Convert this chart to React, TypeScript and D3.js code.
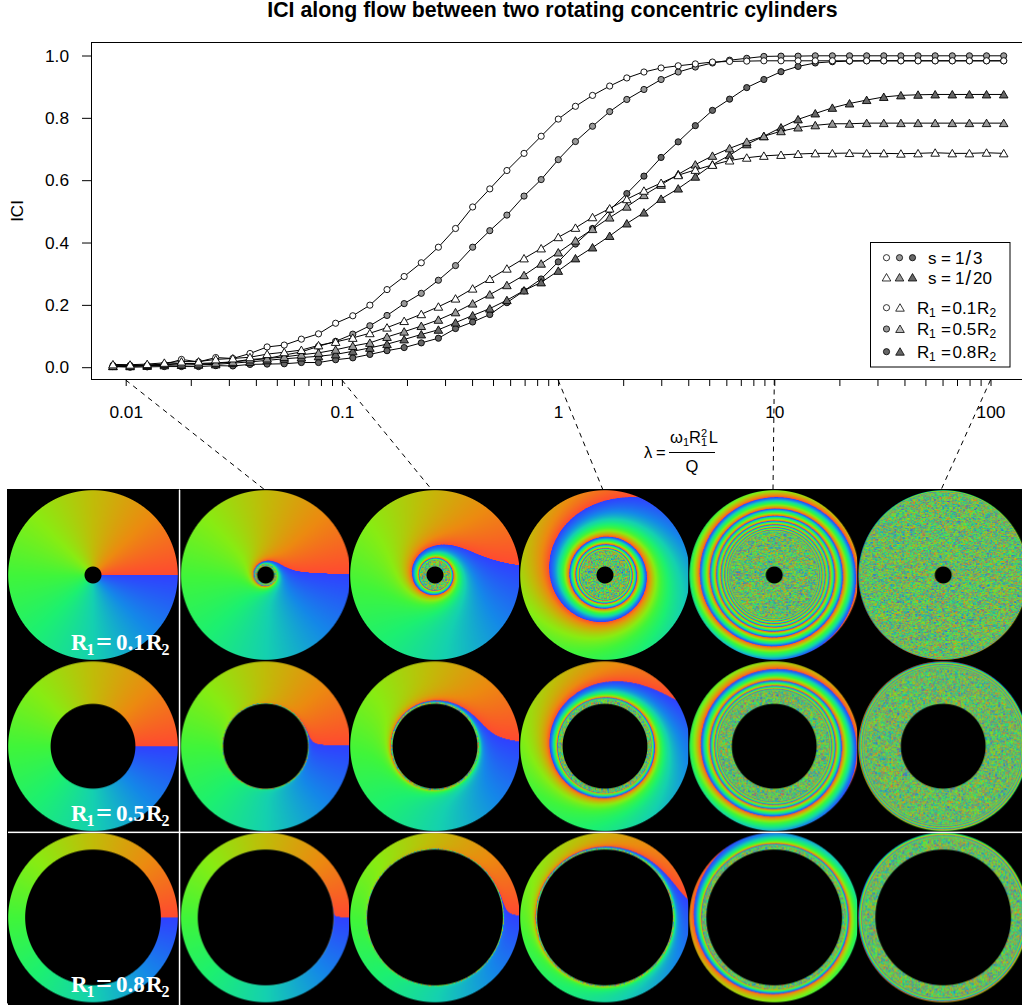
import React, { useEffect, useRef } from "react";
import * as d3 from "d3";

const FONT = "'Liberation Sans', Arial, sans-serif";
const SERIF = "'Liberation Serif', serif";

// flow parameter for every point on the curves
const lambdas = [
  0.00873, 0.01048, 0.01257, 0.01509, 0.01811, 0.02173, 0.02609, 0.0313, 0.03757, 0.04509,
  0.05411, 0.06494, 0.07795, 0.09354, 0.1123, 0.1347, 0.1617, 0.1941, 0.2329, 0.2795,
  0.3354, 0.4025, 0.4831, 0.5797, 0.6958, 0.835, 1.002, 1.203, 1.443, 1.732,
  2.079, 2.495, 2.995, 3.594, 4.313, 5.176, 6.212, 7.457, 8.949, 10.74,
  12.88, 15.47, 18.56, 22.28, 26.74, 32.09, 38.51, 46.22, 55.47, 66.57,
  79.89, 95.87, 115.1,
];

// s = 1/3
const circleR01 = [
  0.006, 0.006, 0.006, 0.009, 0.025, 0.017, 0.031, 0.028, 0.044, 0.065,
  0.071, 0.09, 0.107, 0.141, 0.165, 0.199, 0.249, 0.291, 0.335, 0.385,
  0.445, 0.514, 0.572, 0.631, 0.686, 0.741, 0.796, 0.837, 0.872, 0.902,
  0.928, 0.947, 0.96, 0.967, 0.973, 0.979, 0.981, 0.982, 0.983, 0.983,
  0.983, 0.983, 0.983, 0.983, 0.983, 0.983, 0.983, 0.983, 0.983, 0.983,
  0.983, 0.983, 0.983,
];
const circleR05 = [
  0.002, 0.003, 0.005, 0.007, 0.012, 0.01, 0.012, 0.017, 0.022, 0.028,
  0.039, 0.049, 0.067, 0.083, 0.106, 0.133, 0.166, 0.204, 0.237, 0.279,
  0.326, 0.385, 0.438, 0.488, 0.549, 0.602, 0.666, 0.724, 0.773, 0.82,
  0.859, 0.891, 0.923, 0.947, 0.963, 0.976, 0.985, 0.991, 0.997, 0.998,
  0.998, 0.999, 0.999, 0.999, 0.999, 0.999, 0.999, 0.999, 0.999, 0.999,
  0.999, 0.999, 0.999,
];
const circleR08 = [
  0.002, 0.0, 0.001, 0.002, 0.002, 0.002, 0.005, 0.004, 0.009, 0.01,
  0.011, 0.015, 0.015, 0.024, 0.03, 0.041, 0.053, 0.063, 0.078, 0.093,
  0.124, 0.145, 0.169, 0.207, 0.245, 0.283, 0.338, 0.395, 0.445, 0.504,
  0.557, 0.613, 0.673, 0.723, 0.775, 0.824, 0.86, 0.897, 0.923, 0.948,
  0.965, 0.976, 0.98, 0.982, 0.983, 0.983, 0.983, 0.983, 0.983, 0.983,
  0.983, 0.983, 0.983,
];

// s = 1/20
const triangleR01 = [
  0.009, 0.008, 0.01, 0.014, 0.018, 0.018, 0.025, 0.028, 0.032, 0.042,
  0.048, 0.055, 0.07, 0.081, 0.094, 0.109, 0.127, 0.148, 0.17, 0.194,
  0.22, 0.252, 0.283, 0.316, 0.349, 0.381, 0.417, 0.447, 0.481, 0.509,
  0.539, 0.566, 0.591, 0.616, 0.633, 0.649, 0.663, 0.672, 0.678, 0.681,
  0.684, 0.686, 0.686, 0.687, 0.686, 0.686, 0.685, 0.686, 0.688, 0.686,
  0.686, 0.688, 0.686,
];
const triangleR05 = [
  0.004, 0.005, 0.007, 0.01, 0.012, 0.012, 0.014, 0.017, 0.025, 0.028,
  0.033, 0.04, 0.046, 0.056, 0.068, 0.078, 0.097, 0.114, 0.132, 0.152,
  0.176, 0.204, 0.233, 0.263, 0.295, 0.332, 0.368, 0.406, 0.443, 0.48,
  0.515, 0.552, 0.585, 0.619, 0.65, 0.678, 0.702, 0.723, 0.741, 0.757,
  0.769, 0.776, 0.781, 0.781, 0.783, 0.783, 0.783, 0.783, 0.783, 0.783,
  0.783, 0.783, 0.783,
];
const triangleR08 = [
  0.003, 0.003, 0.004, 0.006, 0.007, 0.008, 0.009, 0.013, 0.017, 0.022,
  0.027, 0.031, 0.035, 0.041, 0.051, 0.062, 0.074, 0.089, 0.105, 0.12,
  0.143, 0.166, 0.188, 0.215, 0.246, 0.272, 0.309, 0.349, 0.384, 0.421,
  0.461, 0.496, 0.54, 0.573, 0.611, 0.65, 0.68, 0.715, 0.741, 0.769,
  0.795, 0.814, 0.832, 0.846, 0.857, 0.867, 0.872, 0.874, 0.875, 0.875,
  0.875, 0.875, 0.875,
];

const seriesList = [
  { values: circleR08, shape: "circle", fill: "#666666" },
  { values: circleR05, shape: "circle", fill: "#999999" },
  { values: circleR01, shape: "circle", fill: "#ffffff" },
  { values: triangleR08, shape: "triangle", fill: "#666666" },
  { values: triangleR05, shape: "triangle", fill: "#999999" },
  { values: triangleR01, shape: "triangle", fill: "#ffffff" },
];

const yTicks = [0, 0.2, 0.4, 0.6, 0.8, 1.0];
const xMajorTicks = [0.01, 0.1, 1, 10, 100];
const xTickLabels = ["0.01", "0.1", "1", "10", "100"];

// disks: one row per radius ratio, one column per lambda
const radiusRatios = [0.1, 0.5, 0.8];
const panelLambdas = [0, 0.01, 0.1, 1, 10, 100];
const panelCentersX = [93, 265.6, 435, 605, 774.2, 943.2];
const panelCentersY = [575, 746.2, 917.4];
const ratioBaselines = [650, 821, 992];
const diskRadius = 84.8;
// where the dashed leaders land on top of the disks
const leaderTargetsX = [265, 432, 603, 773, 941];

// rim colours going counter clockwise from 3 o'clock
const hueAngles = [0, 45, 90, 135, 180, 225, 270, 315, 360];
const hueColors = ["#ff4a30", "#ec8a10", "#c0bc08", "#88ec12", "#40f53a", "#1cf070", "#14d0b0", "#1488e8", "#3040ff"];

function pseudo(x: number, y: number, s: number) {
  const v = Math.sin(x * 127.1 + y * 311.7 + s * 74.7) * 43758.5453;
  return v - Math.floor(v);
}

// concentric rotation + annular Poiseuille: twist of a fluid element at radius rho
function twist(rho: number, k: number) {
  const lnk = Math.log(1 / k);
  const a = (1 - k * k) / lnk;
  const integ = 0.25 * (1 - Math.pow(k, 4) - (1 - k * k) * (1 - k * k) / lnk);
  const c = (2 * Math.PI * integ) / (1 - k * k);
  const f = 1 - rho * rho + a * Math.log(rho);
  return (c * (1 / (rho * rho) - 1)) / f;
}

function drawDisk(lambda: number, k: number, r: number) {
  const size = Math.ceil(r * 2) + 2;
  const canvas = document.createElement("canvas");
  canvas.width = size;
  canvas.height = size;
  const ctx = canvas.getContext("2d")!;
  const img = ctx.createImageData(size, size);

  const colorScale = d3.scaleLinear<string>().domain(hueAngles).range(hueColors).interpolate(d3.interpolateRgb);
  const lut = d3.range(1024).map(i => d3.rgb(colorScale((i / 1024) * 360)));
  const wrap = (t: number) => lut[Math.min(1023, Math.floor((t - Math.floor(t)) * 1024))];

  const c = size / 2;
  const samples = 4;
  const pixel = 1 / r;
  const clampRho = (v: number) => Math.min(1 - 1e-4, Math.max(k + 1e-4, v));
  for (let py = 0; py < size; py++) {
    for (let px = 0; px < size; px++) {
      const dx = px + 0.5 - c;
      const dy = py + 0.5 - c;
      const dist = Math.hypot(dx, dy);
      const rho = dist / r;
      const cover = Math.min(1, Math.max(0, r - dist + 0.5)) * Math.min(1, Math.max(0, dist - k * r + 0.5));
      const idx = (py * size + px) * 4;
      img.data[idx + 3] = 255;
      if (cover <= 0) continue;
      const theta = Math.atan2(-dy, dx);

      // ring period in pixels; below about 2 px the bands dissolve into speckle
      const grad = Math.abs(twist(clampRho(rho + pixel), k) - twist(clampRho(rho - pixel), k)) * 0.5 * lambda;
      const period = grad > 0 ? (2 * Math.PI) / grad : 1e9;
      const speckle = Math.min(1, Math.max(0, (2.3 - period) / 0.6));

      let cr = 0, cg = 0, cb = 0;
      for (let s = 0; s < samples; s++) {
        const rj = rho + ((s + pseudo(px, py, s + 1 + lambda)) / samples - 0.5) * 0.8 * pixel;
        const col = wrap((theta - lambda * twist(clampRho(rj), k)) / (2 * Math.PI));
        cr += col.r; cg += col.g; cb += col.b;
      }
      cr /= samples; cg /= samples; cb /= samples;

      if (speckle > 0) {
        const cx = Math.floor(px / 1.6), cy = Math.floor(py / 1.6);
        const n1 = wrap(pseudo(cx, cy, 3.1 + k * 7 + lambda));
        const n2 = wrap(pseudo(cx + 11, cy + 5, 5.7 + k * 3 + lambda));
        const n3 = wrap(pseudo(px, py, 9.3 + k + lambda));
        const n4 = wrap(pseudo(px + 3, py + 7, 2.9 + k + lambda));
        const nr = (n1.r + n2.r + n3.r + n4.r) / 4, ng = (n1.g + n2.g + n3.g + n4.g) / 4, nb = (n1.b + n2.b + n3.b + n4.b) / 4;
        cr = cr * (1 - speckle) + nr * speckle;
        cg = cg * (1 - speckle) + ng * speckle;
        cb = cb * (1 - speckle) + nb * speckle;
      }
      img.data[idx] = cr * cover;
      img.data[idx + 1] = cg * cover;
      img.data[idx + 2] = cb * cover;
    }
  }
  ctx.putImageData(img, 0, 0);
  return { href: canvas.toDataURL(), size };
}

const App = () => {
  const ref = useRef<SVGSVGElement>(null);

  useEffect(() => {
    const svg = d3.select(ref.current);
    svg.selectAll("*").remove();

    const xScale = d3.scaleLog().domain([0.01, 100]).range([125.7, 990.5]);
    const yScale = d3.scaleLinear().domain([0, 1]).range([367.2, 55.5]);

    svg.append("text")
      .attr("x", 552.5).attr("y", 17)
      .attr("text-anchor", "middle")
      .style("font", `bold 21.3px ${FONT}`)
      .text("ICI along flow between two rotating concentric cylinders");

    // black image strip
    svg.append("rect").attr("x", 8).attr("y", 490).attr("width", 1014).attr("height", 515).attr("fill", "#000");

    radiusRatios.forEach((k, row) => {
      panelLambdas.forEach((lambda, col) => {
        const { href, size } = drawDisk(lambda, k, diskRadius);
        svg.append("image")
          .attr("href", href)
          .attr("x", panelCentersX[col] - size / 2)
          .attr("y", panelCentersY[row] - size / 2)
          .attr("width", size).attr("height", size)
          .style("filter", "blur(0.45px)");
      });
    });

    svg.append("rect").attr("x", 178.8).attr("y", 490).attr("width", 1.5).attr("height", 515).attr("fill", "#fff");
    svg.append("rect").attr("x", 8).attr("y", 831.6).attr("width", 1014).attr("height", 1.5).attr("fill", "#fff");

    ratioBaselines.forEach((y, row) => {
      const label = svg.append("g").attr("transform", `translate(71,${y})`)
        .attr("fill", "#fff").style("font-family", SERIF).style("font-weight", "bold");
      const part = (x: number, dy: number, fs: number, t: string) =>
        label.append("text").attr("x", x).attr("y", dy).style("font-size", fs + "px").text(t);
      part(0, 0, 23, "R");
      part(15.5, 5, 16, "1");
      part(25, 1, 28, "=");
      part(45, 0, 23, String(radiusRatios[row]));
      part(75, 0, 23, "R");
      part(90.5, 5, 16, "2");
    });

    // plot box, runs off the right hand edge of the page
    svg.append("rect").attr("x", 91.5).attr("y", 42.5).attr("width", 960).attr("height", 337)
      .attr("fill", "#fff").attr("stroke", "#000").attr("stroke-width", 1);

    const xMinor: number[] = [];
    [0.01, 0.1, 1, 10].forEach(d => d3.range(2, 10).forEach(m => xMinor.push(d * m)));
    const xAxis = svg.append("g").attr("transform", "translate(0,379)")
      .call(d3.axisBottom(xScale).tickValues(xMajorTicks.concat(xMinor)).tickSize(7).tickSizeOuter(0)
        .tickFormat((d: any) => { const i = xMajorTicks.indexOf(+d); return i >= 0 ? xTickLabels[i] : ""; }));
    xAxis.select(".domain").remove();
    xAxis.selectAll("text").attr("y", 26.7).style("font", `17.3px ${FONT}`).attr("fill", "#000");
    xAxis.selectAll("line").attr("stroke", "#000");

    const yAxis = svg.append("g").attr("transform", "translate(91,0)")
      .call(d3.axisLeft(yScale).tickValues(yTicks).tickSize(9).tickSizeOuter(0).tickFormat(d3.format(".1f") as any));
    yAxis.select(".domain").remove();
    yAxis.selectAll("text").attr("x", -22).style("font", `17.3px ${FONT}`).attr("fill", "#000");
    yAxis.selectAll("line").attr("stroke", "#000");

    svg.append("text").attr("transform", "translate(23,211) rotate(-90)").attr("text-anchor", "middle")
      .style("font", `17px ${FONT}`).text("ICI");

    // dashed leaders from the axis to the disks
    xMajorTicks.forEach((t, i) => {
      svg.append("line")
        .attr("x1", xScale(t)).attr("y1", 380)
        .attr("x2", leaderTargetsX[i]).attr("y2", 490)
        .attr("stroke", "#000").attr("stroke-width", 1).attr("stroke-dasharray", "5 4.5");
    });

    // x axis title
    const lam = svg.append("g").style("font-family", FONT).style("font-size", "16.5px");
    lam.append("text").attr("x", 644).attr("y", 458).text("λ");
    lam.append("text").attr("x", 656).attr("y", 458).text("=");
    lam.append("line").attr("x1", 669).attr("x2", 715).attr("y1", 452.5).attr("y2", 452.5).attr("stroke", "#000");
    const numerator = lam.append("text").attr("x", 670).attr("y", 443);
    numerator.append("tspan").text("ω");
    numerator.append("tspan").attr("dy", 3).style("font-size", "11px").text("1");
    numerator.append("tspan").attr("dy", -3).text("R");
    numerator.append("tspan").attr("dy", 3).style("font-size", "11px").text("1");
    numerator.append("tspan").attr("dy", -9).attr("dx", -6).style("font-size", "11px").text("2");
    numerator.append("tspan").attr("dy", 6).attr("dx", 1.5).text("L");
    lam.append("text").attr("x", 692).attr("y", 472).attr("text-anchor", "middle").text("Q");

    // curves and their symbols
    const lineGen = d3.line<number>().x((d, i) => xScale(lambdas[i])).y(d => yScale(d));
    const triangle = d3.symbol().type(d3.symbolTriangle).size(32);
    seriesList.forEach(({ values, shape, fill }) => {
      svg.append("path").datum(values).attr("d", lineGen).attr("fill", "none").attr("stroke", "#000").attr("stroke-width", 1);
      const g = svg.append("g");
      values.forEach((v, i) => {
        if (shape === "circle") {
          g.append("circle").attr("cx", xScale(lambdas[i])).attr("cy", yScale(v)).attr("r", 3.1)
            .attr("fill", fill).attr("stroke", "#000").attr("stroke-width", 0.9);
        } else {
          g.append("path").attr("d", triangle() as string)
            .attr("transform", `translate(${xScale(lambdas[i])},${yScale(v) + 1})`)
            .attr("fill", fill).attr("stroke", "#000").attr("stroke-width", 0.9);
        }
      });
    });

    // legend
    const legend = svg.append("g");
    legend.append("rect").attr("x", 870.5).attr("y", 242.5).attr("width", 139.5).attr("height", 124.5)
      .attr("fill", "#fff").attr("stroke", "#000");
    const sym = (x: number, y: number, shape: string, fill: string) => {
      if (shape === "circle") {
        legend.append("circle").attr("cx", x).attr("cy", y).attr("r", 3.1).attr("fill", fill).attr("stroke", "#000").attr("stroke-width", 0.8);
      } else {
        legend.append("path").attr("d", triangle() as string).attr("transform", `translate(${x},${y + 1})`)
          .attr("fill", fill).attr("stroke", "#000").attr("stroke-width", 0.8);
      }
    };
    const greys = ["#ffffff", "#999999", "#666666"];
    greys.forEach((g, i) => sym(886.5 + i * 13, 257.7, "circle", g));
    greys.forEach((g, i) => sym(886.5 + i * 13, 277.5, "triangle", g));
    [307.7, 329, 351.7].forEach((y, i) => {
      sym(886.5, y, "circle", greys[i]);
      sym(900, y, "triangle", i === 1 ? "#bbbbbb" : greys[i]);
    });
    const legText = (x: number, y: number, t: string, fs = 17) =>
      legend.append("text").attr("x", x).attr("y", y).style("font", `${fs}px ${FONT}`).text(t);
    [["1/3", 264], ["1/20", 284]].forEach(([t, y]) => {
      const [num, den] = String(t).split("/");
      legText(928, +y, "s");
      legText(941, +y, "=");
      legText(955, +y, num);
      legText(965.5, +y + 1, "/", 20);
      legText(973, +y, den);
    });
    ["0.1", "0.5", "0.8"].forEach((v, i) => {
      const y = [313.5, 335, 357.5][i];
      legText(917, y, "R");
      legText(929, y + 3, "1", 12);
      legText(941, y, "=");
      legText(952.5, y, v);
      legText(977, y, "R");
      legText(989.5, y + 3, "2", 12);
    });
  }, []);

  return <svg ref={ref} width={1022} height={1005} style={{ position: "absolute", left: 0, top: 0, display: "block" }} />;
};

export default App;
